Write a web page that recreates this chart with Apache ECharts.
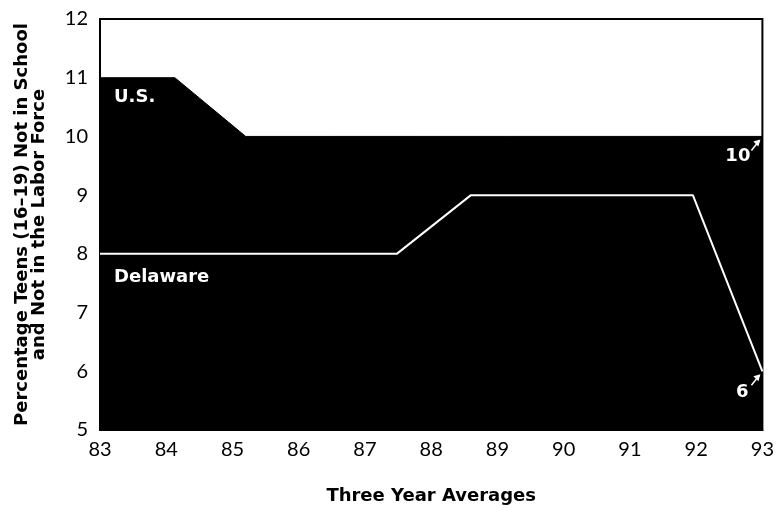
<!DOCTYPE html>
<html><head><meta charset="utf-8">
<script src="https://cdn.jsdelivr.net/npm/echarts@6/dist/echarts.min.js"></script>
<style>html,body{margin:0;padding:0;background:#fff}#c{width:777px;height:510px}</style>
</head><body><div id="c"></div>
<script>
const xTicks = [83,84,85,86,87,88,89,90,91,92,93];
const yTicks = [5,6,7,8,9,10,11,12];
const usX = [83, 84.13, 85.2, 93];
const usY = [11, 11, 10, 10];
const deX = [83, 87.48, 88.6, 91.95, 93];
const deY = [8, 8, 9, 9, 6];

const font = 'Lato, "DejaVu Sans", sans-serif';
const titleFont = '"DejaVu Sans", sans-serif';
const chart = echarts.init(document.getElementById('c'));
chart.setOption({
  animation: false,
  backgroundColor: '#fff',
  grid: {left: 100, right: 12, top: 19, bottom: 78, show: true, borderColor: '#000', borderWidth: 2, backgroundColor: '#fff'},
  xAxis: {
    type: 'value', min: 83, max: 93, interval: 1,
    name: 'Three Year Averages', nameLocation: 'middle', nameGap: 57,
    nameTextStyle: {fontFamily: titleFont, fontSize: 18, fontWeight: 'bold', color: '#000'},
    axisLine: {show: true, lineStyle: {color: '#000', width: 2}},
    axisTick: {show: false},
    splitLine: {show: false},
    axisLabel: {fontFamily: font, fontSize: 20, color: '#000', margin: 10}
  },
  yAxis: {
    type: 'value', min: 5, max: 12, interval: 1,
    name: 'Percentage Teens (16–19) Not in School\nand Not in the Labor Force', nameLocation: 'middle', nameGap: 52,
    nameTextStyle: {fontFamily: titleFont, fontSize: 18, fontWeight: 'bold', color: '#000', lineHeight: 17},
    axisLine: {show: true, lineStyle: {color: '#000', width: 2}},
    axisTick: {show: false},
    splitLine: {show: false},
    axisLabel: {fontFamily: font, fontSize: 20, color: '#000', margin: 12}
  },
  series: [
    {
      name: 'U.S.', type: 'line', data: usX.map((x, i) => [x, usY[i]]),
      symbol: 'none', lineStyle: {color: '#000', width: 1},
      areaStyle: {color: '#000', opacity: 1, origin: 'start'},
      z: 2
    },
    {
      name: 'Delaware', type: 'line', data: deX.map((x, i) => [x, deY[i]]),
      symbol: 'none', lineStyle: {color: '#fff', width: 2},
      z: 3
    }
  ]
});

function px(x, y) { return chart.convertToPixel({gridIndex: 0}, [x, y]); }
const lblStyle = {fill: '#fff', font: 'bold 18px ' + titleFont};
const pUS = px(83, 11), pDE = px(83, 8), pEndUS = px(93, 10), pEndDE = px(93, 6);
const g = [
  {type: 'text', z: 100, x: pUS[0] + 14, y: pUS[1] + 11, style: Object.assign({text: 'U.S.', verticalAlign: 'top'}, lblStyle)},
  {type: 'text', z: 100, x: pDE[0] + 14, y: pDE[1] + 14, style: Object.assign({text: 'Delaware', verticalAlign: 'top'}, lblStyle)},
  {type: 'text', z: 100, x: pEndUS[0] - 12, y: pEndUS[1] + 11, style: Object.assign({text: '10', align: 'right', verticalAlign: 'top'}, lblStyle)},
  {type: 'text', z: 100, x: pEndDE[0] - 14, y: pEndDE[1] + 12, style: Object.assign({text: '6', align: 'right', verticalAlign: 'top'}, lblStyle)}
];
function arrow(p) {
  const sx = p[0] - 11, sy = p[1] + 14, ex = p[0] - 3, ey = p[1] + 4;
  g.push({type: 'line', z: 100, shape: {x1: sx, y1: sy, x2: ex, y2: ey}, style: {stroke: '#fff', lineWidth: 1.5}});
  g.push({type: 'polygon', z: 100, shape: {points: [[ex + 1, ey - 1], [ex - 6, ey + 1], [ex - 1, ey + 6]]}, style: {fill: '#fff'}});
}
arrow(pEndUS); arrow(pEndDE);
chart.setOption({graphic: g});
</script></body></html>
